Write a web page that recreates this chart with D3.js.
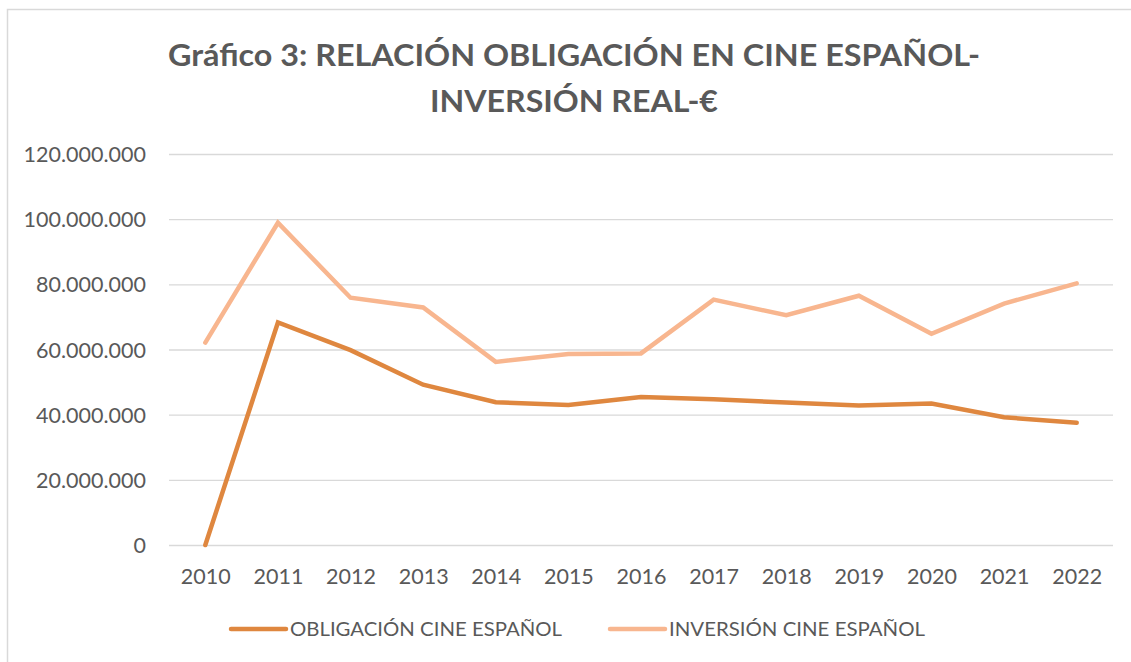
<!DOCTYPE html>
<html>
<head>
<meta charset="utf-8">
<script src="https://cdn.jsdelivr.net/npm/d3@7"></script>
<style>
  body { margin: 0; background: #fff; }
  svg { display: block; font-family: Lato, "Open Sans", sans-serif; }
</style>
</head>
<body>
<div id="chart"></div>
<script>
const years = ['2010', '2011', '2012', '2013', '2014', '2015', '2016', '2017', '2018', '2019', '2020', '2021', '2022'];
const obligacion = [0, 68300000, 59800000, 49200000, 43800000, 43000000, 45400000, 44700000, 43700000, 42800000, 43400000, 39200000, 37500000];
const inversion = [62100000, 98900000, 75900000, 72900000, 56200000, 58600000, 58800000, 75300000, 70500000, 76500000, 64800000, 74100000, 80300000];
const yTicks = [0, 20000000, 40000000, 60000000, 80000000, 100000000, 120000000];
const seriesNames = ['OBLIGACIÓN CINE ESPAÑOL', 'INVERSIÓN CINE ESPAÑOL'];
const titleLines = ['Gráfico 3: RELACIÓN OBLIGACIÓN EN CINE ESPAÑOL-', 'INVERSIÓN REAL-€'];

const dims = { width: 1131, height: 662 };
const plot = { left: 169, right: 1113, top: 154, bottom: 545 };
const colors = ['#DF873F', '#F8B68F'];
const textColor = '#595959';

const svg = d3.select('#chart')
    .append('svg')
    .attr('width', dims.width)
    .attr('height', dims.height);

// chart frame
svg.append('rect')
    .attr('x', 7.5).attr('y', 9.5)
    .attr('width', 1300).attr('height', 800)
    .attr('fill', 'none')
    .attr('stroke', '#d9d9d9')
    .attr('stroke-width', 1.5);

// title
const titleWidths = [812, 288];
svg.selectAll('.title')
    .data(titleLines)
    .enter()
    .append('text')
    .attr('class', 'title')
    .attr('x', 574)
    .attr('y', (d, i) => 66 + i * 46)
    .attr('text-anchor', 'middle')
    .attr('font-size', 31)
    .attr('font-weight', 'bold')
    .attr('fill', textColor)
    .attr('textLength', (d, i) => titleWidths[i])
    .attr('lengthAdjust', 'spacingAndGlyphs')
    .text(d => d);

// scales
const x = d3.scalePoint()
    .domain(years)
    .range([plot.left, plot.right])
    .padding(0.5);

const y = d3.scaleLinear()
    .domain([0, 120000000])
    .range([plot.bottom, plot.top]);

const fmt = v => d3.format(',')(v).replace(/,/g, '.');

// gridlines + y labels
const yAxis = svg.append('g')
    .call(d3.axisLeft(y)
        .tickValues(yTicks)
        .tickSize(0)
        .tickPadding(0)
        .tickFormat(fmt));
yAxis.select('.domain').remove();
yAxis.selectAll('.tick text')
    .attr('x', 146)
    .attr('dy', '0.35em')
    .attr('font-family', 'Lato, sans-serif')
    .attr('font-size', 21.5)
    .attr('fill', textColor);
yAxis.selectAll('.tick')
    .append('line')
    .attr('x1', plot.left)
    .attr('x2', plot.right)
    .attr('stroke', '#d9d9d9')
    .attr('stroke-width', 1.4);

// x labels
const xAxis = svg.append('g')
    .attr('transform', `translate(0,${plot.bottom})`)
    .call(d3.axisBottom(x).tickSize(0).tickPadding(0));
xAxis.select('.domain').remove();
xAxis.selectAll('.tick text')
    .attr('y', 31)
    .attr('dy', '0.35em')
    .attr('font-family', 'Lato, sans-serif')
    .attr('font-size', 21.5)
    .attr('fill', textColor);

// lines
const line = d3.line()
    .x((d, i) => x(years[i]))
    .y(d => y(d));

[inversion, obligacion].forEach((series, k) => {
    svg.append('path')
        .datum(series)
        .attr('fill', 'none')
        .attr('stroke', colors[1 - k])
        .attr('stroke-width', 4.5)
        .attr('stroke-linecap', 'round')
        .attr('stroke-linejoin', 'miter')
        .attr('d', line);
});

// legend
const legendX = [231, 610];
const legendW = [272, 256];
const legend = svg.selectAll('.legend')
    .data(seriesNames)
    .enter()
    .append('g')
    .attr('class', 'legend')
    .attr('transform', (d, i) => `translate(${legendX[i]},629)`);
legend.append('line')
    .attr('x1', 0).attr('x2', 55)
    .attr('stroke', (d, i) => colors[i])
    .attr('stroke-width', 4.5)
    .attr('stroke-linecap', 'round');
legend.append('text')
    .attr('x', 59)
    .attr('dy', '0.35em')
    .attr('font-size', 20)
    .attr('fill', textColor)
    .attr('textLength', (d, i) => legendW[i])
    .attr('lengthAdjust', 'spacingAndGlyphs')
    .text(d => d);
</script>
</body>
</html>
